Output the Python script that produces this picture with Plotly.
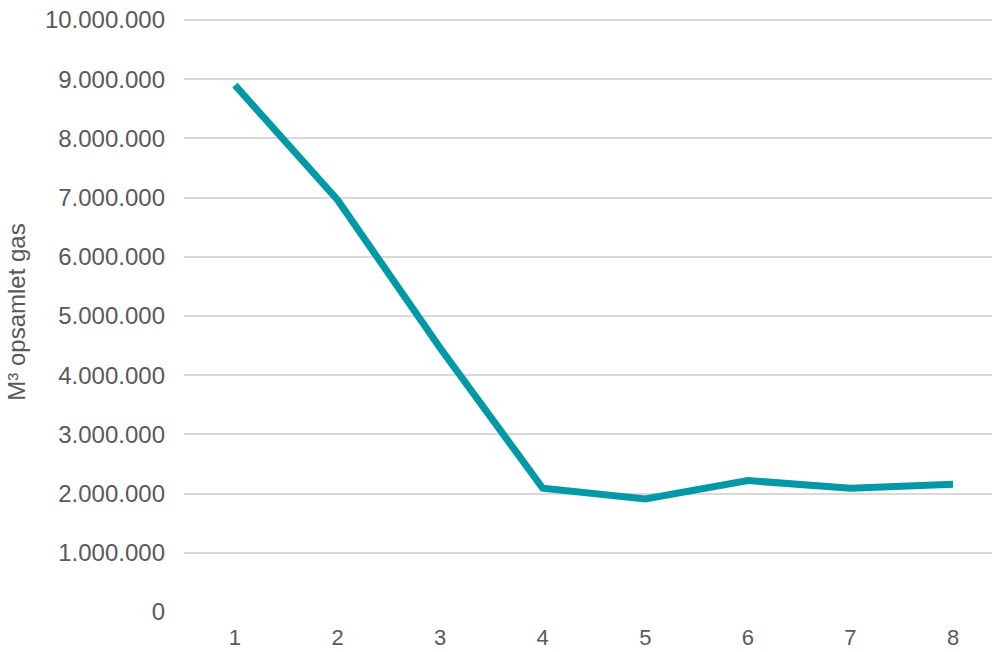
import plotly.graph_objects as go

categories = [1, 2, 3, 4, 5, 6, 7, 8]
gas_m3 = [8900000, 6960000, 4460000, 2090000, 1910000, 2220000, 2090000, 2160000]
y_ticks = [0, 1000000, 2000000, 3000000, 4000000, 5000000, 6000000, 7000000, 8000000, 9000000, 10000000]

fig = go.Figure()
fig.add_trace(go.Scatter(
    x=categories, y=gas_m3, mode="lines",
    line=dict(color="#0099A6", width=7),
    showlegend=False, cliponaxis=False,
))

fig.update_layout(
    width=994, height=652,
    margin=dict(l=184, r=2, t=12, b=40, autoexpand=False),
    paper_bgcolor="white", plot_bgcolor="white",
    separators=",.",
    font=dict(family="Liberation Sans, Arial, sans-serif", color="#595959", size=24),
    xaxis=dict(
        range=[0.503, 8.38], tickvals=categories, ticktext=[str(c) for c in categories],
        showgrid=False, zeroline=False, showline=False, ticks="",
        ticklabelstandoff=10, ticklabeloverflow="allow", automargin=False,
        tickfont=dict(size=22, color="#595959"),
    ),
    yaxis=dict(
        range=[0, 10135000], tickvals=y_ticks, tickformat=",.0f",
        showgrid=True, gridcolor="#D9D9D9", gridwidth=1.5, zeroline=False,
        showline=False, ticks="", ticklabelstandoff=18, ticklabeloverflow="allow",
        automargin=False,
        tickfont=dict(size=24, color="#595959"),
        title=dict(text="M³ opsamlet gas", font=dict(size=24, color="#595959"), standoff=12),
    ),
)

fig.write_html(
    "out.html",
    config={"displayModeBar": False},
    post_script="document.body.style.margin='0';document.body.style.overflow='hidden';",
)
